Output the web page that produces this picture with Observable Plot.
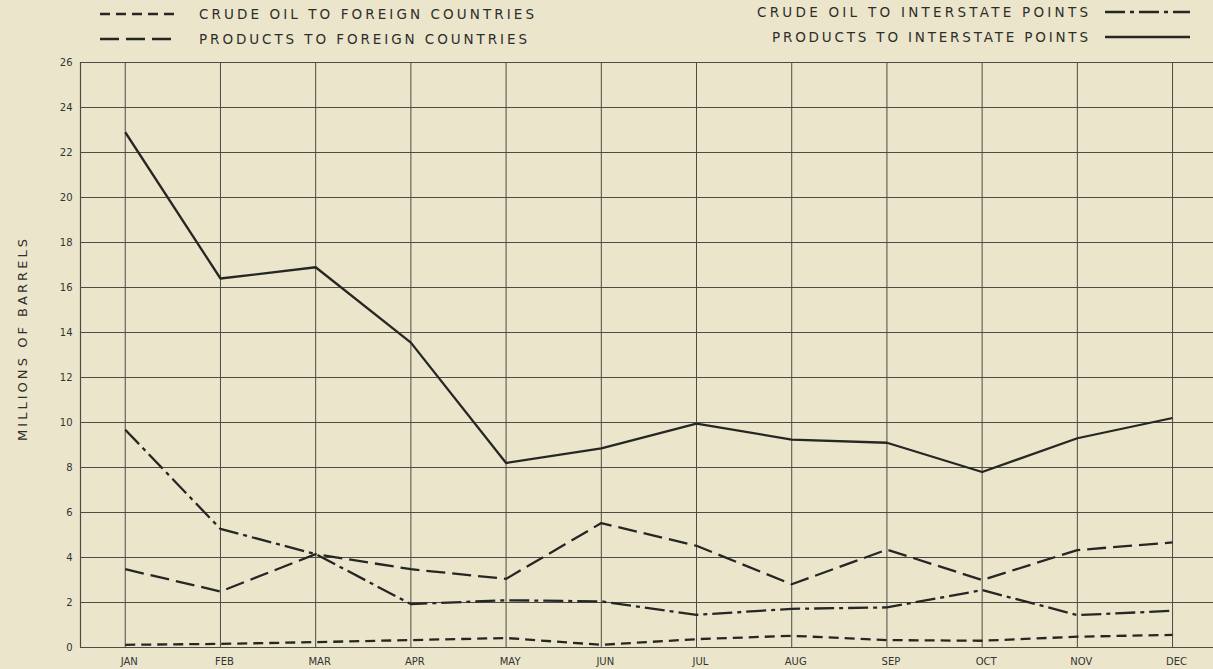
<!DOCTYPE html>
<html>
<head>
<meta charset="utf-8">
<script src="https://cdn.jsdelivr.net/npm/d3@7"></script>
<script src="https://cdn.jsdelivr.net/npm/@observablehq/plot@0.6"></script>
<style>
  html, body { margin: 0; padding: 0; background: #ebe6cb; }
  #wrap { position: relative; width: 1213px; height: 669px; overflow: hidden; background: #ebe6cb; }
  #chart { position: absolute; left: 0; top: 0; }
  #overlay { position: absolute; left: 0; top: 0; pointer-events: none; }
  text { font-family: "DejaVu Sans", sans-serif; }
</style>
</head>
<body>
<div id="wrap">
  <div id="chart"></div>
  <svg id="overlay" width="1213" height="669"></svg>
</div>
<script>
// ---- data ----
const months = ["JAN","FEB","MAR","APR","MAY","JUN","JUL","AUG","SEP","OCT","NOV","DEC"];
const yTicks = [0,2,4,6,8,10,12,14,16,18,20,22,24,26];
const seriesNames = [
  "CRUDE OIL TO FOREIGN COUNTRIES",
  "PRODUCTS TO FOREIGN COUNTRIES",
  "CRUDE OIL TO INTERSTATE POINTS",
  "PRODUCTS TO INTERSTATE POINTS"
];
const crudeForeign      = [0.12, 0.16, 0.24, 0.33, 0.42, 0.12, 0.37, 0.52, 0.33, 0.30, 0.48, 0.56];
const productsForeign   = [3.48, 2.49, 4.15, 3.48, 3.05, 5.53, 4.52, 2.81, 4.35, 3.00, 4.33, 4.67];
const crudeInterstate   = [9.68, 5.27, 4.15, 1.93, 2.10, 2.05, 1.45, 1.72, 1.78, 2.55, 1.44, 1.63];
const productsInterstate= [22.9, 16.4, 16.9, 13.55, 8.2, 8.85, 9.95, 9.24, 9.1, 7.8, 9.3, 10.2];
const seriesValues = [crudeForeign, productsForeign, crudeInterstate, productsInterstate];
const dashes = ["10,6", "19,7", "20,5,4,5", null];

// ---- build ----
const ink = "#262624";
const grid = "#4d4b44";
const monthIdx = months.map((m, i) => i);
const xDomain = [-0.47, 11.43];

const rows = seriesNames.flatMap((name, s) =>
  months.map((m, i) => ({series: name, s, month: i, value: seriesValues[s][i]})));

const lineMarks = seriesNames.map((name, s) =>
  Plot.line(rows.filter(d => d.s === s), {
    x: "month", y: "value",
    stroke: ink, strokeWidth: 2.3,
    strokeDasharray: dashes[s] || undefined,
    strokeLinejoin: "miter", strokeLinecap: "butt"
  }));

const chart = Plot.plot({
  width: 1213,
  height: 669,
  marginTop: 62,
  marginBottom: 22,
  marginLeft: 80,
  marginRight: 0,
  style: {background: "transparent", fontFamily: "DejaVu Sans, sans-serif", color: "#333"},
  x: {type: "linear", domain: xDomain},
  y: {domain: [0, 26]},
  marks: [
    Plot.ruleY(yTicks, {stroke: grid, strokeWidth: 1}),
    Plot.ruleX(monthIdx, {y1: 0, y2: 26, stroke: grid, strokeWidth: 1}),
    Plot.ruleX([xDomain[0]], {y1: 0, y2: 26, stroke: grid, strokeWidth: 1.2}),
    ...lineMarks,
    Plot.axisY({ticks: yTicks, tickSize: 0, tickPadding: 8, fontSize: 10, label: null}),
    Plot.axisX({ticks: monthIdx, tickFormat: i => months[i], tickSize: 0, tickPadding: 10, fontSize: 10, dx: 4, label: null})
  ]
});
document.getElementById("chart").appendChild(chart);

// ---- legend & y label overlay ----
const ov = d3.select("#overlay");
const legend = [
  {s: 0, lx1: 100, lx2: 178, ly: 14, tx: 199, tlen: 335, anchor: "start"},
  {s: 1, lx1: 100, lx2: 178, ly: 39, tx: 199, tlen: 328, anchor: "start"},
  {s: 2, lx1: 1105, lx2: 1190, ly: 12, tx: 757, tlen: 331, anchor: "start"},
  {s: 3, lx1: 1105, lx2: 1190, ly: 37, tx: 772, tlen: 316, anchor: "start"}
];
legend.forEach(l => {
  ov.append("line")
    .attr("x1", l.lx1).attr("x2", l.lx2).attr("y1", l.ly).attr("y2", l.ly)
    .attr("stroke", ink).attr("stroke-width", 2.3)
    .attr("stroke-dasharray", dashes[l.s] || null);
  ov.append("text")
    .attr("x", l.tx).attr("y", l.ly + 5)
    .attr("font-size", 13.5).attr("fill", "#2e2d2a")
    .attr("textLength", l.tlen).attr("lengthAdjust", "spacing")
    .text(seriesNames[l.s]);
});
ov.append("text")
  .attr("transform", "translate(27,340) rotate(-90)")
  .attr("text-anchor", "middle")
  .attr("font-size", 13).attr("fill", "#2e2d2a")
  .attr("textLength", 202).attr("lengthAdjust", "spacing")
  .text("MILLIONS OF BARRELS");
</script>
</body>
</html>
